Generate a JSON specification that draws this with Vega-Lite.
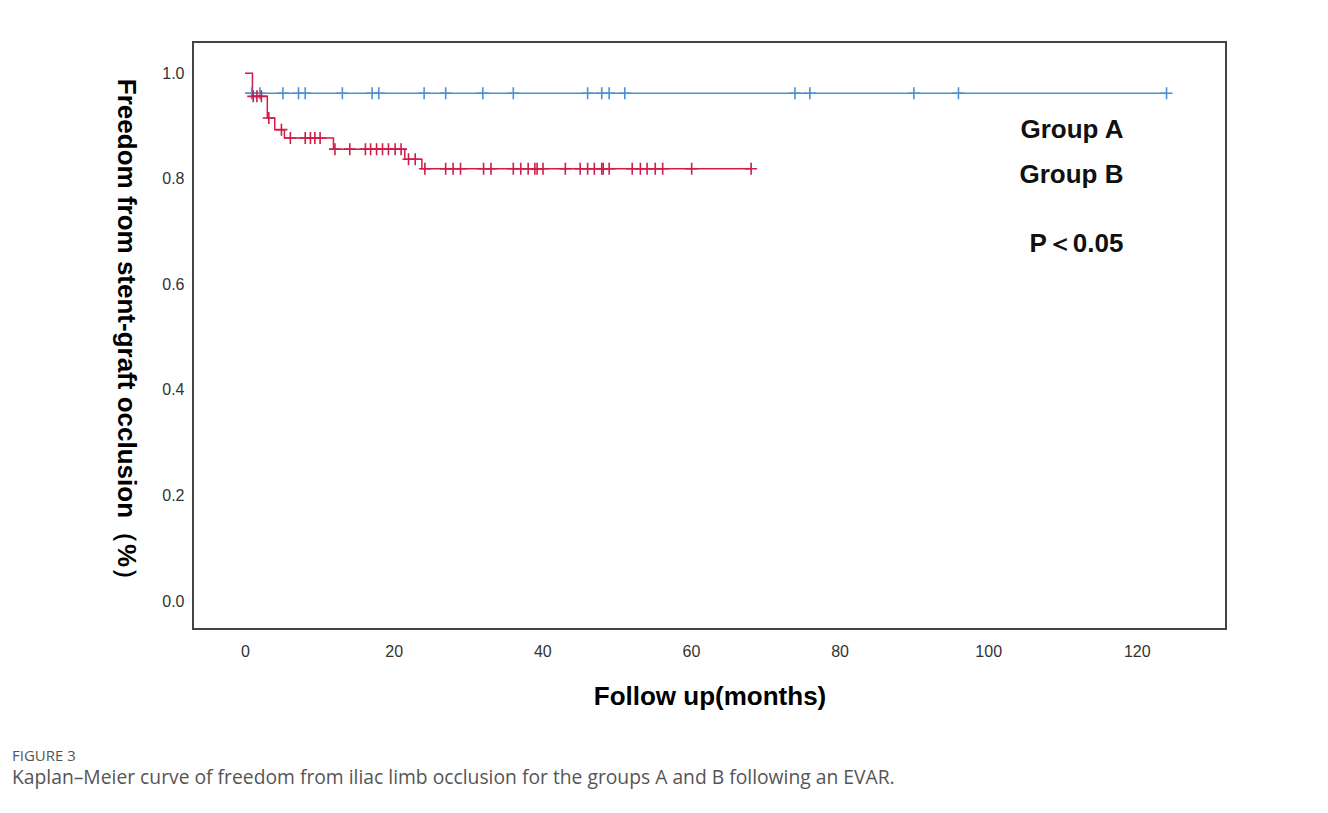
{
  "$schema": "https://vega.github.io/schema/vega-lite/v6.json",
  "width": 1033,
  "height": 587,
  "autosize": {"type": "none"},
  "padding": {"left": 193, "top": 42, "right": 102, "bottom": 184},
  "background": "white",
  "datasets": {
    "curves": [
      {"group": "Group A", "t": 0, "s": 0.962},
      {"group": "Group A", "t": 124, "s": 0.962},
      {"group": "Group B", "t": 0, "s": 1.0},
      {"group": "Group B", "t": 1.0, "s": 0.956},
      {"group": "Group B", "t": 3.0, "s": 0.915},
      {"group": "Group B", "t": 4.0, "s": 0.893},
      {"group": "Group B", "t": 5.3, "s": 0.877},
      {"group": "Group B", "t": 11.9, "s": 0.856},
      {"group": "Group B", "t": 21.5, "s": 0.837},
      {"group": "Group B", "t": 23.8, "s": 0.819},
      {"group": "Group B", "t": 68.1, "s": 0.819}
    ],
    "censors": [
      {"group": "Group A", "t": 0.9, "s": 0.962},
      {"group": "Group A", "t": 2.0, "s": 0.962},
      {"group": "Group A", "t": 5.1, "s": 0.962},
      {"group": "Group A", "t": 7.2, "s": 0.962},
      {"group": "Group A", "t": 8.1, "s": 0.962},
      {"group": "Group A", "t": 13.1, "s": 0.962},
      {"group": "Group A", "t": 17.1, "s": 0.962},
      {"group": "Group A", "t": 18.0, "s": 0.962},
      {"group": "Group A", "t": 24.1, "s": 0.962},
      {"group": "Group A", "t": 27.0, "s": 0.962},
      {"group": "Group A", "t": 32.0, "s": 0.962},
      {"group": "Group A", "t": 36.1, "s": 0.962},
      {"group": "Group A", "t": 46.1, "s": 0.962},
      {"group": "Group A", "t": 48.0, "s": 0.962},
      {"group": "Group A", "t": 49.0, "s": 0.962},
      {"group": "Group A", "t": 51.1, "s": 0.962},
      {"group": "Group A", "t": 74.0, "s": 0.962},
      {"group": "Group A", "t": 76.0, "s": 0.962},
      {"group": "Group A", "t": 90.0, "s": 0.962},
      {"group": "Group A", "t": 96.0, "s": 0.962},
      {"group": "Group A", "t": 124.0, "s": 0.962},
      {"group": "Group B", "t": 1.1, "s": 0.956},
      {"group": "Group B", "t": 1.6, "s": 0.956},
      {"group": "Group B", "t": 2.2, "s": 0.956},
      {"group": "Group B", "t": 3.2, "s": 0.915},
      {"group": "Group B", "t": 4.9, "s": 0.893},
      {"group": "Group B", "t": 6.1, "s": 0.877},
      {"group": "Group B", "t": 8.1, "s": 0.877},
      {"group": "Group B", "t": 8.8, "s": 0.877},
      {"group": "Group B", "t": 9.4, "s": 0.877},
      {"group": "Group B", "t": 10.1, "s": 0.877},
      {"group": "Group B", "t": 12.1, "s": 0.856},
      {"group": "Group B", "t": 14.1, "s": 0.856},
      {"group": "Group B", "t": 16.2, "s": 0.856},
      {"group": "Group B", "t": 16.9, "s": 0.856},
      {"group": "Group B", "t": 17.7, "s": 0.856},
      {"group": "Group B", "t": 18.5, "s": 0.856},
      {"group": "Group B", "t": 19.3, "s": 0.856},
      {"group": "Group B", "t": 20.2, "s": 0.856},
      {"group": "Group B", "t": 21.0, "s": 0.856},
      {"group": "Group B", "t": 22.0, "s": 0.837},
      {"group": "Group B", "t": 22.9, "s": 0.837},
      {"group": "Group B", "t": 24.2, "s": 0.819},
      {"group": "Group B", "t": 27.0, "s": 0.819},
      {"group": "Group B", "t": 28.0, "s": 0.819},
      {"group": "Group B", "t": 29.0, "s": 0.819},
      {"group": "Group B", "t": 32.1, "s": 0.819},
      {"group": "Group B", "t": 33.1, "s": 0.819},
      {"group": "Group B", "t": 36.1, "s": 0.819},
      {"group": "Group B", "t": 37.1, "s": 0.819},
      {"group": "Group B", "t": 38.1, "s": 0.819},
      {"group": "Group B", "t": 39.0, "s": 0.819},
      {"group": "Group B", "t": 39.3, "s": 0.819},
      {"group": "Group B", "t": 40.1, "s": 0.819},
      {"group": "Group B", "t": 43.1, "s": 0.819},
      {"group": "Group B", "t": 45.1, "s": 0.819},
      {"group": "Group B", "t": 46.1, "s": 0.819},
      {"group": "Group B", "t": 47.0, "s": 0.819},
      {"group": "Group B", "t": 48.0, "s": 0.819},
      {"group": "Group B", "t": 48.2, "s": 0.819},
      {"group": "Group B", "t": 49.0, "s": 0.819},
      {"group": "Group B", "t": 52.1, "s": 0.819},
      {"group": "Group B", "t": 53.2, "s": 0.819},
      {"group": "Group B", "t": 54.1, "s": 0.819},
      {"group": "Group B", "t": 55.2, "s": 0.819},
      {"group": "Group B", "t": 56.2, "s": 0.819},
      {"group": "Group B", "t": 60.1, "s": 0.819},
      {"group": "Group B", "t": 68.1, "s": 0.819}
    ],
    "labels": [
      {"label": "Group A", "t": 118.2, "s": 0.877},
      {"label": "Group B", "t": 118.2, "s": 0.791},
      {"label": "P＜0.05", "t": 118.2, "s": 0.661}
    ]
  },
  "title": {
    "text": "FIGURE 3",
    "subtitle": "Kaplan–Meier curve of freedom from iliac limb occlusion for the groups A and B following an EVAR.",
    "orient": "bottom",
    "anchor": "start",
    "frame": "bounds",
    "dx": -100,
    "offset": 40,
    "font": "Open Sans",
    "fontSize": 15,
    "fontWeight": "normal",
    "color": "#555555",
    "subtitleFont": "Open Sans",
    "subtitleFontSize": 19.3,
    "subtitleColor": "#555555",
    "subtitlePadding": 5
  },
  "layer": [
    {
      "data": {"name": "curves"},
      "mark": {"type": "line", "interpolate": "step-after", "strokeWidth": 1.5},
      "encoding": {
        "x": {
          "field": "t", "type": "quantitative",
          "scale": {"domain": [-7, 132], "nice": false, "zero": false},
          "axis": {
            "values": [0, 20, 40, 60, 80, 100, 120],
            "title": "Follow up(months)",
            "grid": false, "ticks": false, "domain": false,
            "labelFont": "Liberation Sans", "labelFontSize": 16, "labelColor": "#333333",
            "labelPadding": 14,
            "titleFont": "Liberation Sans", "titleFontSize": 26, "titleFontWeight": "bold", "titleColor": "#000000",
            "titlePadding": 24
          }
        },
        "y": {
          "field": "s", "type": "quantitative",
          "scale": {"domain": [-0.053, 1.059], "nice": false, "zero": false},
          "axis": {
            "values": [0, 0.2, 0.4, 0.6, 0.8, 1.0],
            "format": ".1f",
            "title": "Freedom from stent-graft occlusion（%）",
            "titleAngle": 90,
            "titleX": -68,
            "titleBaseline": "middle",
            "titleAlign": "center",
            "grid": false, "ticks": false, "domain": false,
            "labelFont": "Liberation Sans", "labelFontSize": 16, "labelColor": "#333333",
            "labelPadding": 9,
            "titleFont": "Liberation Sans", "titleFontSize": 26, "titleFontWeight": "bold", "titleColor": "#000000"
          }
        },
        "color": {
          "field": "group", "type": "nominal",
          "scale": {"domain": ["Group A", "Group B"], "range": ["#4a8fd8", "#d01c48"]},
          "legend": null
        }
      }
    },
    {
      "data": {"name": "censors"},
      "mark": {"type": "point", "shape": "M-1,0H1M0,-1V1", "filled": false, "size": 144, "strokeWidth": 1.6, "opacity": 1},
      "encoding": {
        "x": {"field": "t", "type": "quantitative"},
        "y": {"field": "s", "type": "quantitative"},
        "color": {"field": "group", "type": "nominal", "legend": null}
      }
    },
    {
      "data": {"name": "labels"},
      "mark": {"type": "text", "align": "right", "baseline": "alphabetic", "font": "Liberation Sans", "fontSize": 26, "fontWeight": "bold", "color": "#111111"},
      "encoding": {
        "x": {"field": "t", "type": "quantitative"},
        "y": {"field": "s", "type": "quantitative"},
        "text": {"field": "label", "type": "nominal"}
      }
    }
  ],
  "config": {
    "view": {"stroke": "#444444", "strokeWidth": 2}
  }
}
